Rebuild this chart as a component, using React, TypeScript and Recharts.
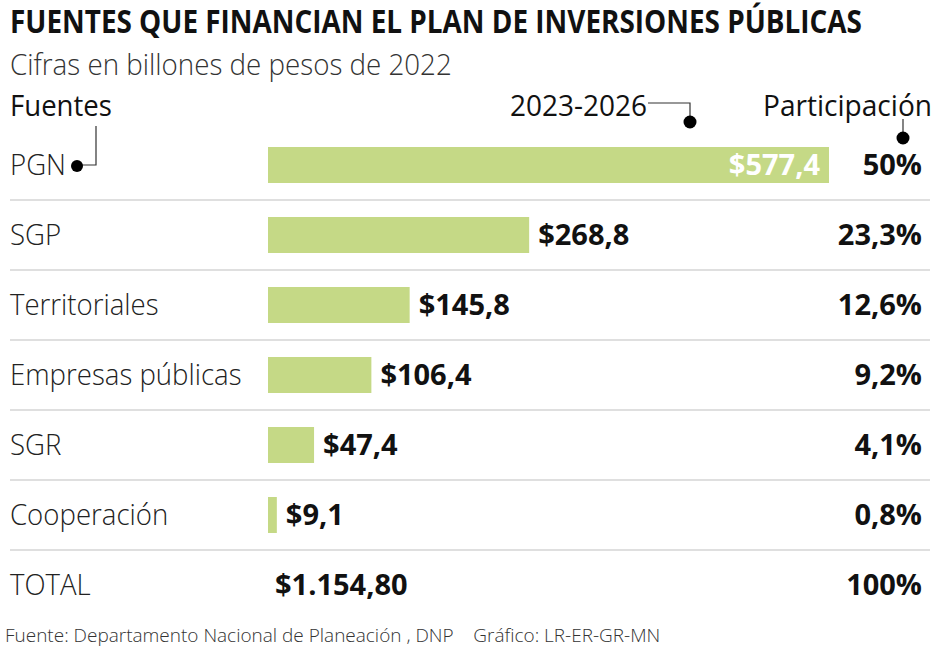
import React, { useLayoutEffect, useRef, useState } from 'react';
import { BarChart, Bar, XAxis, YAxis, LabelList } from 'recharts';

const categories = ['PGN', 'SGP', 'Territoriales', 'Empresas públicas', 'SGR', 'Cooperación', 'TOTAL'];
const values: (number | null)[] = [577.4, 268.8, 145.8, 106.4, 47.4, 9.1, null];
const shares = [50, 23.3, 12.6, 9.2, 4.1, 0.8, 100];
const totalValue = 1154.8;

const data = categories.map((name, i) => ({ name, value: values[i], share: shares[i] }));

const BAR = '#c5d986';
const TXT = '#222';
const FONT = '"Open Sans", "Noto Sans", sans-serif';

const fmtVal = (v: number) => '$' + v.toFixed(1).replace('.', ',');
const fmtShare = (v: number) => String(v).replace('.', ',') + '%';
const fmtTotal = (v: number) => {
  const [i, d] = v.toFixed(2).split('.');
  return '$' + i.replace(/\B(?=(\d{3})+(?!\d))/g, '.') + ',' + d;
};

type FitProps = {
  x: number;
  y: number;
  target: number;
  fontSize: number;
  fontWeight: number;
  fill: string;
  children: React.ReactNode;
};

const FitText = ({ x, y, target, fontSize, fontWeight, fill, children }: FitProps) => {
  const ref = useRef<SVGTextElement>(null);
  const [s, setS] = useState(0.8);
  useLayoutEffect(() => {
    if (ref.current) {
      const len = ref.current.getComputedTextLength();
      if (len > 0) setS(target / len);
    }
  }, [target]);
  return (
    <text
      ref={ref}
      transform={`translate(${x}, ${y}) scale(${s}, 1)`}
      fontSize={fontSize}
      fontWeight={fontWeight}
      fill={fill}
      fontFamily={FONT}
    >
      {children}
    </text>
  );
};

const LeftTick = (props: any) => {
  const { y, payload, index } = props;
  const isTotal = payload.value === 'TOTAL';
  return (
    <g>
      <text
        transform={`translate(10, ${y + 10}) scale(0.92, 1)`}
        fontSize={30}
        fill={TXT}
        fontFamily={FONT}
        fontWeight={300}
      >
        {payload.value}
      </text>
      {isTotal && (
        <text x={275} y={y + 10} fontSize={29} fill="#111" fontFamily={FONT} fontWeight={700}>
          {fmtTotal(totalValue)}
        </text>
      )}
      {index < categories.length - 1 && (
        <line x1={10} x2={930} y1={y + 35} y2={y + 35} stroke="#d4d4d4" strokeWidth={1.5} />
      )}
    </g>
  );
};

const RightTick = (props: any) => {
  const { y, payload } = props;
  const row = data.find((d) => d.name === payload.value);
  return (
    <text x={922} y={y + 10} fontSize={29} fill="#111" fontFamily={FONT} fontWeight={700} textAnchor="end">
      {row ? fmtShare(row.share) : ''}
    </text>
  );
};

const ValueLabel = (props: any) => {
  const { x, y, width, height, value } = props;
  if (value === null || value === undefined) return null;
  const cy = y + height / 2 + 10;
  const inside = width > 300;
  return (
    <text
      x={inside ? x + width - 9 : x + width + 9}
      y={cy}
      fontSize={29}
      fontFamily={FONT}
      fontWeight={700}
      fill={inside ? '#ffffff' : '#111'}
      textAnchor={inside ? 'end' : 'start'}
    >
      {fmtVal(value)}
    </text>
  );
};

export default function App() {
  return (
    <div style={{ position: 'absolute', left: 0, top: 0, width: 940, height: 651, background: '#fff' }}>
      <BarChart
        width={940}
        height={651}
        data={data}
        layout="vertical"
        margin={{ top: 130, bottom: 31, left: 0, right: 0 }}
        barSize={36}
      >
        <XAxis type="number" domain={[0, 'dataMax']} hide />
        <YAxis
          yAxisId="left"
          type="category"
          dataKey="name"
          width={268}
          axisLine={false}
          tickLine={false}
          interval={0}
          tick={<LeftTick />}
        />
        <YAxis
          yAxisId="right"
          orientation="right"
          type="category"
          dataKey="name"
          width={111}
          axisLine={false}
          tickLine={false}
          interval={0}
          tick={<RightTick />}
        />
        <Bar yAxisId="left" dataKey="value" fill={BAR} isAnimationActive={false}>
          <LabelList dataKey="value" content={<ValueLabel />} />
        </Bar>
      </BarChart>
      <svg
        width={940}
        height={651}
        style={{ position: 'absolute', left: 0, top: 0, pointerEvents: 'none' }}
        fontFamily={FONT}
      >
        <FitText x={10} y={33} target={852} fontSize={32} fontWeight={700} fill="#111">
          FUENTES QUE FINANCIAN EL PLAN DE INVERSIONES PÚBLICAS
        </FitText>
        <FitText x={10} y={75} target={442} fontSize={30} fontWeight={300} fill="#333">
          Cifras en billones de pesos de 2022
        </FitText>
        <FitText x={10} y={116} target={102} fontSize={30} fontWeight={400} fill="#111">
          Fuentes
        </FitText>
        <FitText x={510} y={116} target={137} fontSize={30} fontWeight={400} fill="#111">
          2023-2026
        </FitText>
        <FitText x={763} y={116} target={169} fontSize={30} fontWeight={400} fill="#111">
          Participación
        </FitText>
        <polyline points="648,103 690,103 690,120" fill="none" stroke="#333" strokeWidth={1.2} />
        <circle cx={690} cy={122} r={6.5} fill="#000" />
        <line x1={903} y1={119} x2={903} y2={134} stroke="#333" strokeWidth={1.2} />
        <circle cx={903} cy={138} r={6.5} fill="#000" />
        <polyline points="96,126 96,165 80,165" fill="none" stroke="#333" strokeWidth={1.2} />
        <circle cx={77} cy={166} r={6} fill="#000" />
        <FitText x={5} y={642} target={655} fontSize={19} fontWeight={300} fill="#333">
          Fuente: Departamento Nacional de Planeación , DNP{'\u00a0\u00a0\u00a0\u00a0'}Gráfico: LR-ER-GR-MN
        </FitText>
      </svg>
    </div>
  );
}
